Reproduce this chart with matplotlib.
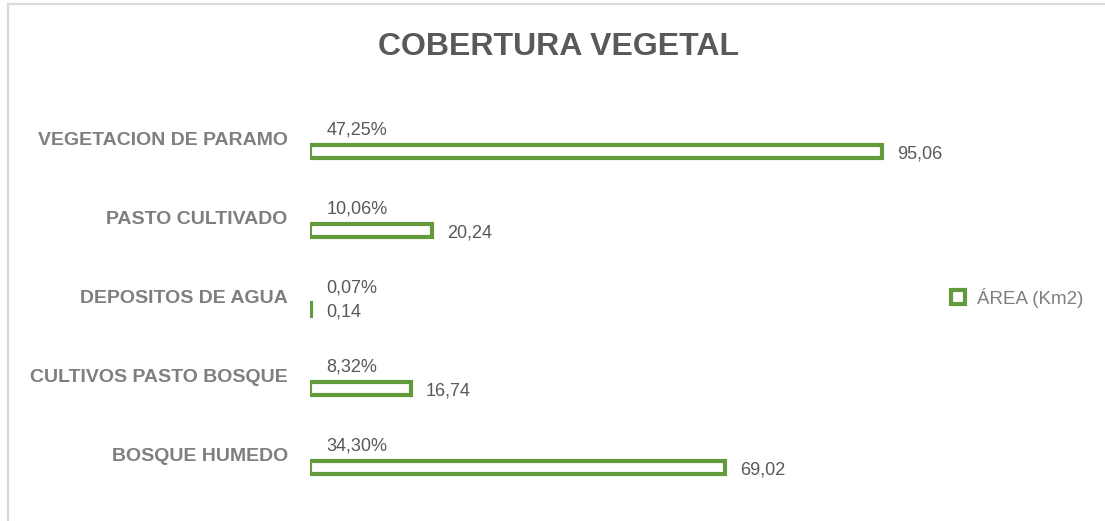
"""Cobertura vegetal: horizontal bar chart with area and percentage labels."""
import matplotlib
matplotlib.use("Agg")
import matplotlib.pyplot as plt
from matplotlib.patches import Rectangle
from matplotlib.lines import Line2D

categories = ["VEGETACION DE PARAMO", "PASTO CULTIVADO", "DEPOSITOS DE AGUA",
              "CULTIVOS PASTO BOSQUE", "BOSQUE HUMEDO"]
area_km2 = [95.06, 20.24, 0.14, 16.74, 69.02]
percent = [47.25, 10.06, 0.07, 8.32, 34.30]
series_name = "ÁREA (Km2)"
title = "COBERTURA VEGETAL"

GREEN = "#629a3c"
DARK = "#595959"
GRAY = "#7f7f7f"
NARROW = ["Liberation Sans Narrow", "Liberation Sans", "DejaVu Sans"]


def fmt(v, nd=2):
    return f"{v:.{nd}f}".replace(".", ",")


def main():
    W, H = 1105, 521
    fig = plt.figure(figsize=(W / 100, H / 100), dpi=100)

    # outer chart border (extends past the picture on right/bottom)
    fig.patches.append(Rectangle((7.5 / W, -0.05), 1.2, 1 - 3.5 / H + 0.05,
                                 transform=fig.transFigure, fill=False,
                                 edgecolor="#d9d9d9", linewidth=1.6))

    # axes placed so that x=0 sits at px 310 and each category step is ~79 px
    left, right = 310, 940
    top, bottom = 100, 510
    ax = fig.add_axes([left / W, 1 - bottom / H, (right - left) / W, (bottom - top) / H])
    px_per_unit = 6.017
    ax.set_xlim(0, (right - left) / px_per_unit)
    step = 79.0
    ax.set_ylim((bottom - 151.5) / step, (top - 151.5) / step)

    y = list(range(len(categories)))
    ax.barh(y, area_km2, height=0.17, color="white", edgecolor=GREEN, linewidth=3.0)

    for i, (a, p) in enumerate(zip(area_km2, percent)):
        ax.annotate(fmt(a), (a, i), xytext=(11, -2), textcoords="offset points",
                    ha="left", va="center", fontsize=13, color=DARK, family=NARROW)
        ax.annotate(fmt(p) + "%", (0, i), xytext=(12, 15.5), textcoords="offset points",
                    ha="left", va="center", fontsize=13, color=DARK, family=NARROW)

    ax.set_yticks([i - 13 / step for i in y])
    ax.set_yticklabels(categories, fontsize=14, fontweight="bold", color=GRAY, family=NARROW)
    ax.tick_params(axis="y", length=0, pad=16)
    ax.set_xticks([])
    for s in ax.spines.values():
        s.set_visible(False)

    fig.text(559 / W, 1 - 47 / H, title, ha="center", va="center", fontsize=23,
             fontweight="bold", color=DARK, family=NARROW)

    handle = Line2D([], [], marker="s", linestyle="none", markersize=9.5,
                    markerfacecolor="white", markeredgecolor=GREEN, markeredgewidth=3.0)
    fig.legend([handle], [series_name], loc="center left",
               bbox_to_anchor=(932 / W, 1 - 298 / H), frameon=False,
               handlelength=1.0, handletextpad=0.5,
               prop={"family": NARROW, "size": 13.5}, labelcolor=GRAY)

    fig.savefig("out.png", dpi=100)


if __name__ == "__main__":
    main()
